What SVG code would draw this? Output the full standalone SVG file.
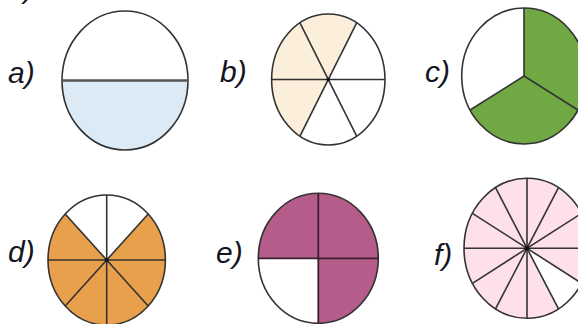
<svg xmlns="http://www.w3.org/2000/svg" width="578" height="324" viewBox="0 0 578 324">
<style>
.lbl{font-family:"Liberation Sans",Arial,sans-serif;font-style:italic;font-size:30px;fill:#15151f}
.o{fill:none;stroke:#333;stroke-width:1.6}
.l{stroke:#333;stroke-width:1.6;fill:none}
</style>
<rect width="578" height="324" fill="#fff"/>
<text class="lbl" x="24" y="-2">)</text>
<g id="a">
<path d="M62,80.5 A63,69.5 0 0 0 188,80.5 Z" fill="#dbeaf4"/>
<ellipse class="o" cx="125" cy="80.5" rx="63" ry="69.5"/>
<line x1="62" y1="80.5" x2="188" y2="80.5" stroke="#555" stroke-width="2.4"/>
<text class="lbl" x="8" y="83">a)</text>
</g>
<g id="b">
<path d="M328.3,79.5 L356.65,22.77 A56.7,65.5 0 0 0 271.6,79.5 A56.7,65.5 0 0 0 299.95,136.23 Z" fill="#fbeedb"/>
<ellipse class="o" cx="328.3" cy="79.5" rx="56.7" ry="65.5"/>
<line class="l" x1="271.6" y1="79.5" x2="385" y2="79.5"/>
<line class="l" x1="356.65" y1="22.77" x2="299.95" y2="136.23"/>
<line class="l" x1="299.95" y1="22.77" x2="356.65" y2="136.23"/>
<circle cx="328.3" cy="79.5" r="1.8" fill="#111"/>
<text class="lbl" x="220" y="82">b)</text>
</g>
<g id="c">
<path d="M524,76 L470.05,110 A62.3,68 0 1 0 524,8 Z" fill="#70a844"/>
<ellipse class="o" cx="524" cy="76" rx="62.3" ry="68"/>
<line class="l" x1="524" y1="76" x2="524" y2="8"/>
<line class="l" x1="524" y1="76" x2="470.05" y2="110"/>
<line class="l" x1="524" y1="76" x2="577.95" y2="110"/>
<text class="lbl" x="425" y="82">c)</text>
</g>
<g id="d">
<path d="M106.7,260 L65.2,214.04 A58.7,65 0 1 0 148.2,214.04 Z" fill="#e9a04c"/>
<ellipse class="o" cx="106.7" cy="260" rx="58.7" ry="65"/>
<line class="l" x1="48" y1="260" x2="165.4" y2="260"/>
<line class="l" x1="106.7" y1="195" x2="106.7" y2="325"/>
<line class="l" x1="148.2" y1="214.04" x2="65.2" y2="305.96"/>
<line class="l" x1="65.2" y1="214.04" x2="148.2" y2="305.96"/>
<circle cx="106.7" cy="260" r="2" fill="#111"/>
<text class="lbl" x="8" y="262">d)</text>
</g>
<g id="e">
<path d="M318.3,258.3 L318.3,323.3 A60,65 0 1 0 258.3,258.3 Z" fill="#b65c8a"/>
<ellipse class="o" cx="318.3" cy="258.3" rx="60" ry="65"/>
<line x1="258.3" y1="258.3" x2="378.3" y2="258.3" stroke="#3a2030" stroke-width="1.8"/>
<line x1="318.3" y1="193.3" x2="318.3" y2="323.3" stroke="#3a2030" stroke-width="1.8"/>
<text class="lbl" x="216" y="263">e)</text>
</g>
<g id="f">
<path d="M527,248.3 L581.56,283.3 A63,70 0 1 0 558.5,308.92 Z" fill="#fde0ea"/>
<ellipse class="o" cx="527" cy="248.3" rx="63" ry="70"/>
<line class="l" x1="464" y1="248.3" x2="590" y2="248.3"/>
<line class="l" x1="527" y1="178.3" x2="527" y2="318.3"/>
<line class="l" x1="581.56" y1="213.3" x2="472.44" y2="283.3"/>
<line class="l" x1="558.5" y1="187.68" x2="495.5" y2="308.92"/>
<line class="l" x1="495.5" y1="187.68" x2="558.5" y2="308.92"/>
<line class="l" x1="472.44" y1="213.3" x2="581.56" y2="283.3"/>
<circle cx="527" cy="248.3" r="2.2" fill="#111"/>
<text class="lbl" x="434" y="265">f)</text>
</g>
</svg>
